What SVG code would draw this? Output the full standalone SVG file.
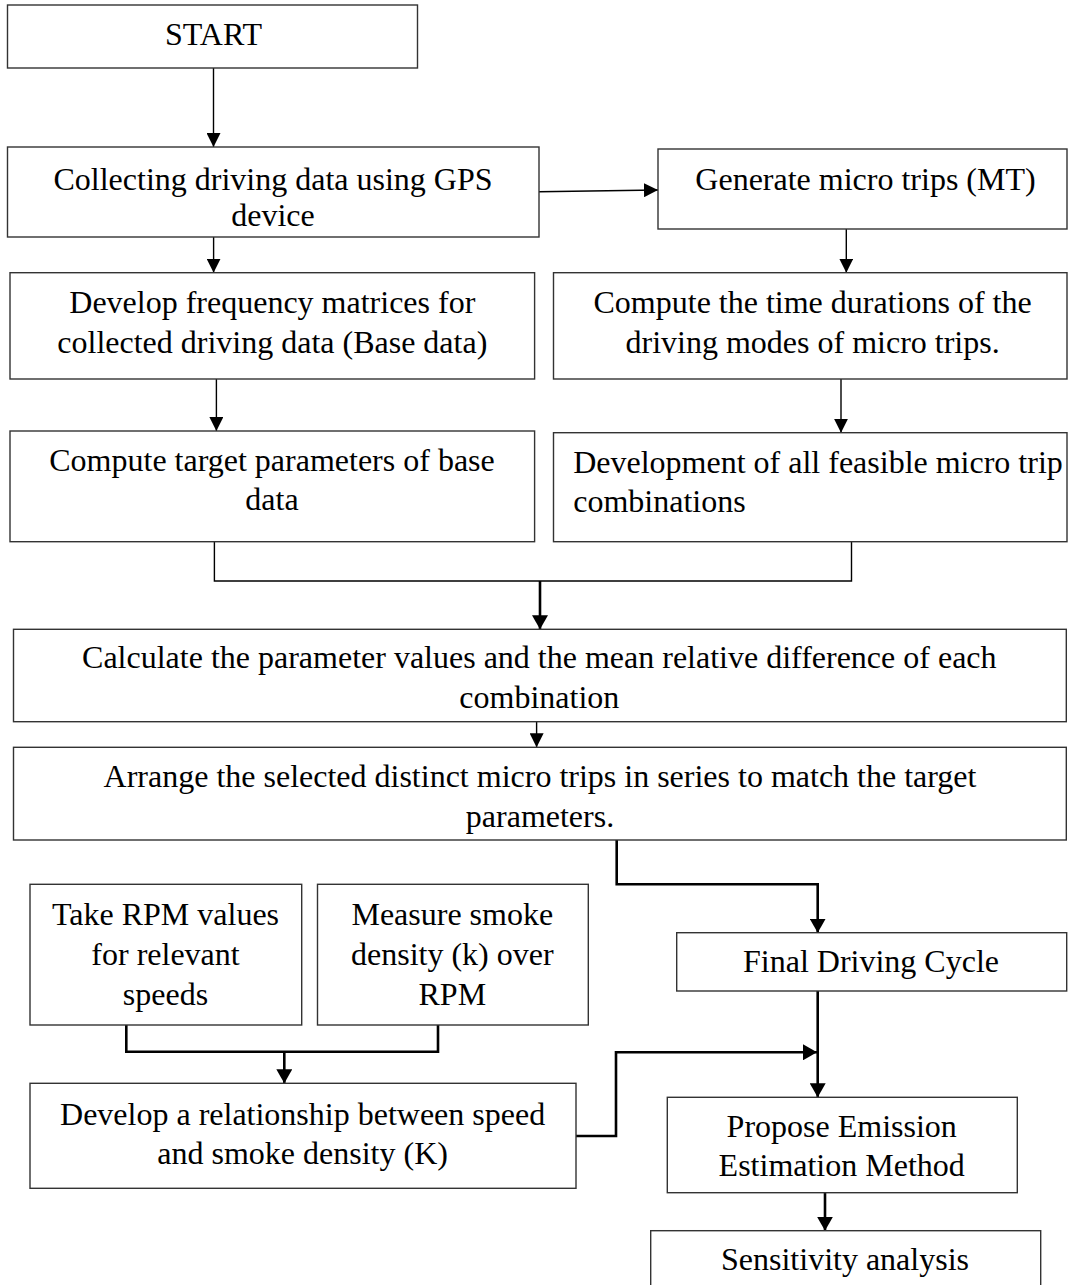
<svg xmlns="http://www.w3.org/2000/svg" width="1072" height="1285" viewBox="0 0 1072 1285">
<defs>
<style>
.box{fill:#fff;stroke:#333;stroke-width:1.4}
.t{font-family:"Liberation Serif","Times New Roman",serif;font-size:32px;fill:#000;text-anchor:middle}
.tl{font-family:"Liberation Serif","Times New Roman",serif;font-size:32px;fill:#000;text-anchor:start}
.c{fill:none;stroke:#000;stroke-width:1.4}
.ck{fill:none;stroke:#000;stroke-width:2.6}
</style>
<marker id="ah" viewBox="0 0 14 14" refX="14" refY="7" markerWidth="14" markerHeight="14" markerUnits="userSpaceOnUse" orient="auto">
<path d="M0,0 L14,7 L0,14 z" fill="#000"/>
</marker>
<marker id="ahk" viewBox="0 0 14 16" refX="14" refY="8" markerWidth="14" markerHeight="16" markerUnits="userSpaceOnUse" orient="auto">
<path d="M0,0 L14,8 L0,16 z" fill="#000"/>
</marker>
</defs>
<rect width="1072" height="1285" fill="#fff"/>
<g id="connectors">
<line class="c" x1="213.5" y1="68" x2="213.5" y2="147" marker-end="url(#ah)"/>
<line class="c" x1="539" y1="191.7" x2="658" y2="190" marker-end="url(#ah)"/>
<line class="c" x1="213.6" y1="237" x2="213.6" y2="272.7" marker-end="url(#ah)"/>
<line class="c" x1="846.3" y1="229" x2="846.3" y2="272.7" marker-end="url(#ah)"/>
<line class="c" x1="216.4" y1="379" x2="216.4" y2="431" marker-end="url(#ah)"/>
<line class="c" x1="841" y1="379" x2="841" y2="432.7" marker-end="url(#ah)"/>
<polyline class="c" points="214.4,541.7 214.4,581 851.5,581 851.5,541.7"/>
<line class="ck" x1="540" y1="581" x2="540" y2="629.3" marker-end="url(#ahk)"/>
<line class="c" x1="536.6" y1="703" x2="536.6" y2="747.3" marker-end="url(#ah)"/>
<polyline class="ck" points="616.7,840 616.7,884.3 817.7,884.3 817.7,932.7" marker-end="url(#ahk)"/>
<line class="ck" x1="817.7" y1="991" x2="817.7" y2="1097.3" marker-end="url(#ahk)"/>
<polyline class="ck" points="576,1136 616,1136 616,1052.3 817,1052.3" marker-end="url(#ahk)"/>
<polyline class="ck" points="126.3,1025 126.3,1051.7 438,1051.7 438,1025"/>
<line class="ck" x1="284.3" y1="1051.7" x2="284.3" y2="1083.3" marker-end="url(#ahk)"/>
<line class="ck" x1="825" y1="1192.7" x2="825" y2="1230.7" marker-end="url(#ahk)"/>
</g>
<g id="n-start">
<rect class="box" x="7.5" y="5" width="410" height="63"/>
<text class="t" x="213.5" y="45">START</text>
</g>
<g id="n-collect">
<rect class="box" x="7.5" y="147" width="531.5" height="90"/>
<text class="t" x="273" y="189.5">Collecting driving data using GPS</text>
<text class="t" x="273" y="226">device</text>
</g>
<g id="n-generate">
<rect class="box" x="658" y="149" width="409" height="80"/>
<text class="t" x="865.5" y="190">Generate micro trips (MT)</text>
</g>
<g id="n-freq">
<rect class="box" x="10" y="272.7" width="524.6" height="106.3"/>
<text class="t" x="272.3" y="312.7">Develop frequency matrices for</text>
<text class="t" x="272.3" y="352.7">collected driving data (Base data)</text>
</g>
<g id="n-durations">
<rect class="box" x="553.5" y="272.7" width="513.5" height="106.3"/>
<text class="t" x="812.6" y="313.3">Compute the time durations of the</text>
<text class="t" x="812.6" y="353.3">driving modes of micro trips.</text>
</g>
<g id="n-target">
<rect class="box" x="10" y="431" width="524.6" height="110.7"/>
<text class="t" x="272" y="470.7">Compute target parameters of base</text>
<text class="t" x="272" y="510">data</text>
</g>
<g id="n-combos">
<rect class="box" x="553.5" y="432.7" width="513.5" height="109"/>
<text class="tl" x="573.2" y="473.3">Development of all feasible micro trip</text>
<text class="tl" x="573.2" y="511.7">combinations</text>
</g>
<g id="n-calc">
<rect class="box" x="13.5" y="629.3" width="1052.8" height="92.4"/>
<text class="t" x="539.3" y="668.3">Calculate the parameter values and the mean relative difference of each</text>
<text class="t" x="539.3" y="708">combination</text>
</g>
<g id="n-arrange">
<rect class="box" x="13.5" y="747.3" width="1052.8" height="92.7"/>
<text class="t" x="540" y="786.7">Arrange the selected distinct micro trips in series to match the target</text>
<text class="t" x="540" y="826.5">parameters.</text>
</g>
<g id="n-rpm">
<rect class="box" x="30" y="884.3" width="271.7" height="140.7"/>
<text class="t" x="165.5" y="925">Take RPM values</text>
<text class="t" x="165.5" y="965">for relevant</text>
<text class="t" x="165.5" y="1005">speeds</text>
</g>
<g id="n-smoke">
<rect class="box" x="317.5" y="884.3" width="270.8" height="140.7"/>
<text class="t" x="452.3" y="925">Measure smoke</text>
<text class="t" x="452.3" y="965">density (k) over</text>
<text class="t" x="452.3" y="1005">RPM</text>
</g>
<g id="n-final">
<rect class="box" x="676.7" y="932.7" width="390" height="58.3"/>
<text class="t" x="871" y="972">Final Driving Cycle</text>
</g>
<g id="n-relation">
<rect class="box" x="30" y="1083.3" width="546" height="105"/>
<text class="t" x="302.6" y="1125">Develop a relationship between speed</text>
<text class="t" x="302.6" y="1164">and smoke density (K)</text>
</g>
<g id="n-propose">
<rect class="box" x="667.3" y="1097.3" width="350" height="95.4"/>
<text class="t" x="841.7" y="1137">Propose Emission</text>
<text class="t" x="841.7" y="1176">Estimation Method</text>
</g>
<g id="n-sens">
<rect class="box" x="650.7" y="1230.7" width="390" height="70"/>
<text class="t" x="845" y="1270">Sensitivity analysis</text>
</g>
</svg>
